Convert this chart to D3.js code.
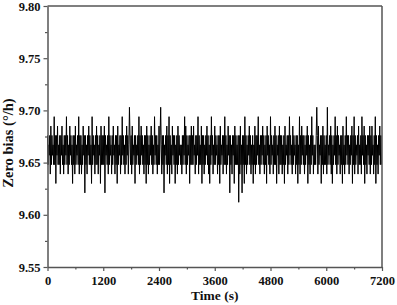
<!DOCTYPE html>
<html>
<head>
<meta charset="utf-8">
<script src="https://cdn.jsdelivr.net/npm/d3@7"></script>
<style>
  body { margin: 0; background: #fff; }
  svg text { font-family: "Liberation Serif", "Times New Roman", serif; font-weight: bold; fill: #111; }
</style>
</head>
<body>
<div id="chart"></div>
<script>
// tick labels
var xTicks = [0, 1200, 2400, 3600, 4800, 6000, 7200];
var xMinor = [600, 1800, 3000, 4200, 5400, 6600];
var yTicks = [9.55, 9.60, 9.65, 9.70, 9.75, 9.80];
var yMinor = [9.575, 9.625, 9.675, 9.725, 9.775];

// zero bias samples, one every 12 s
var sampleStep = 12;
var biasValues = [
  9.676,9.648,9.667,9.657,9.676,9.639,9.685,9.648,9.676,9.657,9.667,9.648,9.694,9.648,9.676,9.630,9.676,9.657,9.685,9.648,
  9.667,9.648,9.676,9.639,9.676,9.657,9.685,9.648,9.667,9.639,9.676,9.648,9.676,9.657,9.694,9.648,9.676,9.639,9.667,9.648,
  9.685,9.657,9.676,9.648,9.667,9.630,9.676,9.648,9.676,9.639,9.685,9.648,9.667,9.657,9.676,9.648,9.694,9.639,9.676,9.648,
  9.676,9.639,9.667,9.648,9.685,9.657,9.676,9.621,9.676,9.648,9.667,9.639,9.676,9.657,9.685,9.648,9.676,9.648,9.667,9.630,
  9.694,9.648,9.676,9.657,9.667,9.639,9.676,9.648,9.685,9.648,9.676,9.639,9.667,9.657,9.676,9.630,9.685,9.648,9.676,9.648,
  9.676,9.648,9.685,9.621,9.676,9.657,9.667,9.648,9.676,9.639,9.694,9.648,9.676,9.657,9.667,9.639,9.676,9.648,9.685,9.657,
  9.667,9.639,9.676,9.648,9.676,9.630,9.685,9.648,9.667,9.657,9.676,9.639,9.676,9.648,9.694,9.657,9.676,9.648,9.667,9.639,
  9.676,9.648,9.685,9.657,9.676,9.639,9.667,9.703,9.676,9.648,9.676,9.639,9.685,9.648,9.667,9.657,9.676,9.630,9.676,9.648,
  9.667,9.657,9.676,9.648,9.694,9.639,9.676,9.648,9.685,9.657,9.676,9.648,9.667,9.639,9.676,9.648,9.676,9.630,9.685,9.648,
  9.676,9.639,9.667,9.648,9.676,9.657,9.685,9.648,9.676,9.639,9.667,9.648,9.694,9.657,9.676,9.648,9.676,9.639,9.667,9.648,
  9.685,9.648,9.676,9.703,9.667,9.639,9.676,9.648,9.676,9.621,9.667,9.657,9.676,9.648,9.685,9.639,9.676,9.648,9.694,9.630,
  9.676,9.648,9.667,9.639,9.685,9.657,9.676,9.648,9.676,9.630,9.667,9.648,9.676,9.639,9.685,9.648,9.676,9.657,9.667,9.648,
  9.667,9.639,9.676,9.648,9.676,9.657,9.694,9.648,9.685,9.639,9.676,9.648,9.667,9.657,9.676,9.630,9.676,9.648,9.685,9.648,
  9.676,9.648,9.685,9.657,9.667,9.639,9.676,9.648,9.676,9.657,9.694,9.639,9.676,9.648,9.667,9.648,9.685,9.630,9.676,9.648,
  9.676,9.639,9.667,9.648,9.676,9.657,9.685,9.648,9.676,9.639,9.667,9.630,9.676,9.648,9.694,9.657,9.676,9.639,9.667,9.648,
  9.685,9.648,9.676,9.657,9.667,9.639,9.676,9.648,9.676,9.630,9.685,9.648,9.667,9.657,9.676,9.639,9.676,9.648,9.694,9.648,
  9.676,9.639,9.667,9.648,9.685,9.657,9.676,9.621,9.676,9.648,9.667,9.639,9.676,9.657,9.676,9.630,9.685,9.648,9.676,9.648,
  9.667,9.648,9.676,9.612,9.676,9.639,9.685,9.648,9.667,9.621,9.676,9.648,9.676,9.630,9.694,9.648,9.676,9.639,9.667,9.648,
  9.676,9.657,9.685,9.648,9.676,9.639,9.667,9.648,9.676,9.630,9.667,9.648,9.685,9.639,9.676,9.648,9.676,9.657,9.694,9.648,
  9.667,9.639,9.676,9.648,9.676,9.657,9.685,9.648,9.676,9.639,9.667,9.648,9.676,9.630,9.685,9.657,9.676,9.648,9.667,9.639,
  9.694,9.648,9.676,9.657,9.667,9.639,9.676,9.648,9.685,9.648,9.676,9.630,9.667,9.657,9.676,9.639,9.685,9.648,9.676,9.648,
  9.676,9.639,9.667,9.648,9.676,9.630,9.685,9.648,9.667,9.657,9.676,9.639,9.676,9.648,9.694,9.657,9.676,9.648,9.667,9.639,
  9.685,9.648,9.676,9.657,9.667,9.639,9.676,9.648,9.676,9.630,9.667,9.648,9.694,9.639,9.676,9.648,9.685,9.657,9.676,9.648,
  9.676,9.639,9.667,9.648,9.676,9.657,9.685,9.630,9.676,9.648,9.667,9.639,9.676,9.648,9.694,9.657,9.676,9.639,9.667,9.648,
  9.667,9.648,9.676,9.703,9.676,9.639,9.685,9.648,9.667,9.657,9.676,9.630,9.676,9.648,9.685,9.639,9.676,9.648,9.667,9.648,
  9.676,9.639,9.703,9.648,9.667,9.657,9.676,9.648,9.685,9.639,9.676,9.630,9.667,9.648,9.676,9.657,9.694,9.648,9.676,9.639,
  9.685,9.648,9.676,9.657,9.667,9.639,9.676,9.648,9.676,9.630,9.685,9.648,9.667,9.639,9.676,9.648,9.694,9.657,9.676,9.648,
  9.676,9.639,9.667,9.648,9.676,9.657,9.685,9.630,9.676,9.648,9.694,9.639,9.676,9.648,9.667,9.657,9.676,9.639,9.685,9.648,
  9.667,9.648,9.676,9.639,9.694,9.657,9.676,9.648,9.685,9.630,9.676,9.648,9.667,9.639,9.676,9.657,9.676,9.648,9.685,9.639,
  9.676,9.648,9.685,9.657,9.667,9.639,9.676,9.648,9.694,9.630,9.676,9.648,9.667,9.639,9.676,9.657,9.685,9.648,9.676,9.648
];

var W = 397, H = 305;
var margin = { top: 6, right: 15, bottom: 38, left: 47.5 };
var innerW = W - margin.left - margin.right;
var innerH = H - margin.top - margin.bottom;
var axisColor = '#555';

var svg = d3.select('#chart').append('svg')
    .attr('width', W)
    .attr('height', H);

var g = svg.append('g')
    .attr('transform', 'translate(' + margin.left + ',' + margin.top + ')');

var x = d3.scaleLinear().domain([0, 7200]).range([0, innerW]);
var y = d3.scaleLinear().domain([9.55, 9.80]).range([innerH, 0]);

var points = biasValues.map(function (v, i) { return { t: i * sampleStep, v: v }; });

var line = d3.line()
    .x(function (d) { return x(d.t); })
    .y(function (d) { return y(d.v); });

g.append('path')
    .datum(points)
    .attr('fill', 'none')
    .attr('stroke', '#000')
    .attr('stroke-width', 1)
    .attr('d', line);

// frame (top and right)
g.append('line').attr('x1', 0).attr('x2', innerW).attr('y1', 0).attr('y2', 0)
    .attr('stroke', axisColor).attr('stroke-width', 1.5);
g.append('line').attr('x1', innerW).attr('x2', innerW).attr('y1', 0).attr('y2', innerH)
    .attr('stroke', axisColor).attr('stroke-width', 1.5);

// minor ticks
g.append('g')
    .attr('transform', 'translate(0,' + innerH + ')')
    .call(d3.axisBottom(x).tickValues(xMinor).tickSize(2.5).tickFormat(''))
    .call(function (s) { s.select('.domain').remove(); });
g.append('g')
    .call(d3.axisLeft(y).tickValues(yMinor).tickSize(2.5).tickFormat(''))
    .call(function (s) { s.select('.domain').remove(); });

var xAxis = g.append('g')
    .attr('transform', 'translate(0,' + innerH + ')')
    .call(d3.axisBottom(x).tickValues(xTicks).tickSize(4).tickSizeOuter(0).tickPadding(5).tickFormat(d3.format('d')));

var yAxis = g.append('g')
    .call(d3.axisLeft(y).tickValues(yTicks).tickSize(4).tickSizeOuter(0).tickPadding(3).tickFormat(d3.format('.2f')));

g.selectAll('.tick line').attr('stroke', axisColor).attr('stroke-width', 1.2);
g.selectAll('.domain').attr('stroke', axisColor).attr('stroke-width', 1.5);
g.selectAll('.tick text').style('font-size', '12.5px').attr('fill', '#111');

svg.append('text')
    .attr('x', margin.left + innerW / 2)
    .attr('y', 300)
    .attr('text-anchor', 'middle')
    .style('font-size', '13.5px')
    .text('Time (s)');

svg.append('text')
    .attr('transform', 'translate(13,143) rotate(-90)')
    .attr('text-anchor', 'middle')
    .style('font-size', '14.5px')
    .text('Zero bias (°/h)');
</script>
</body>
</html>
